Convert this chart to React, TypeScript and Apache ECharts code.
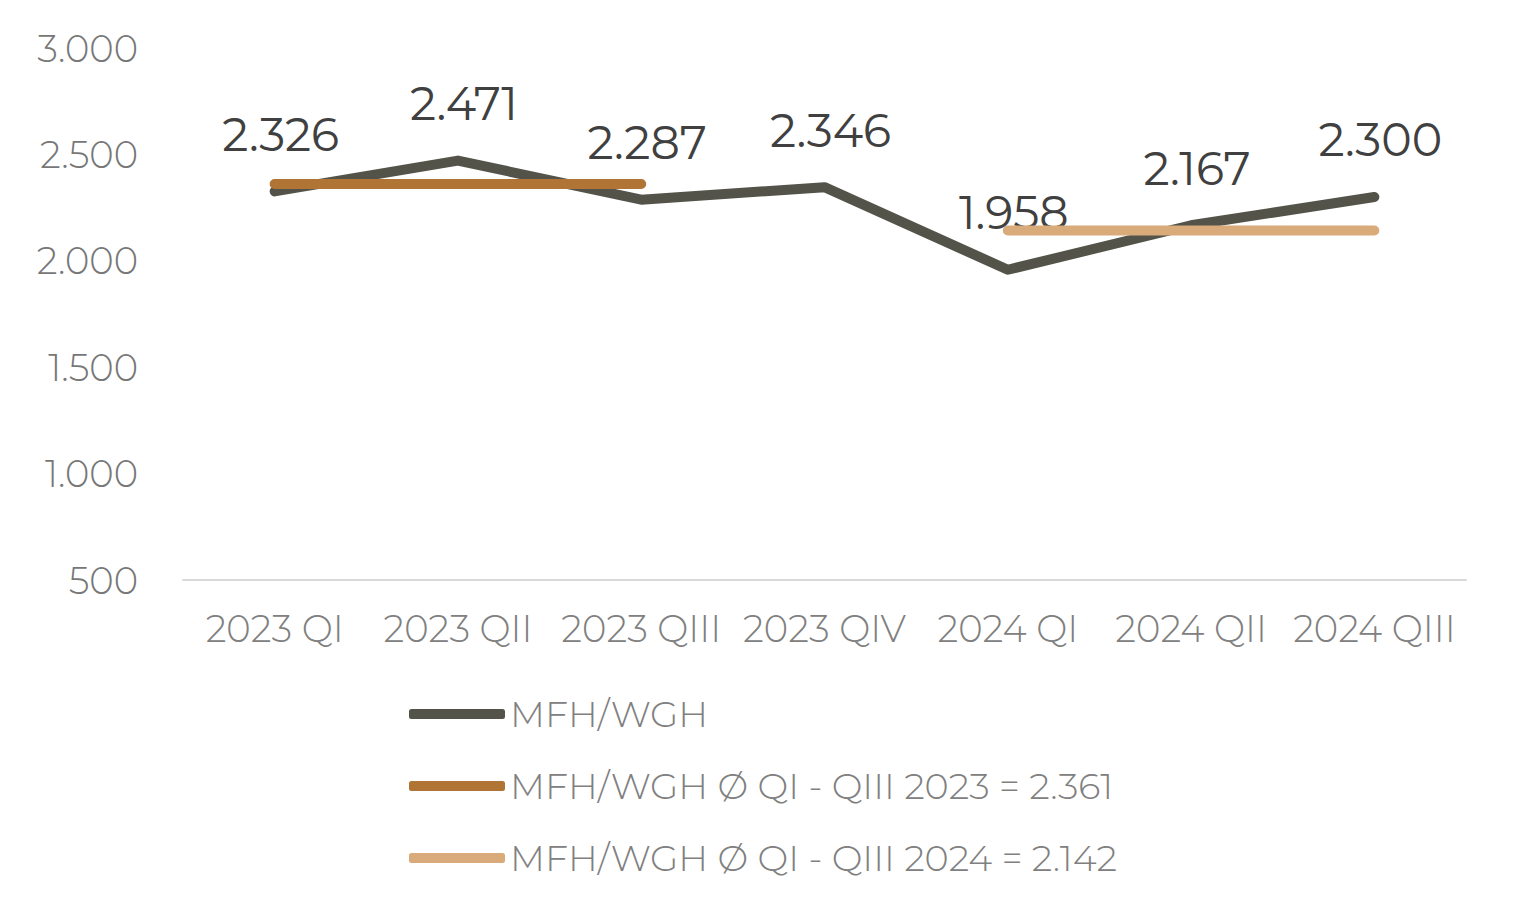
import React, { useEffect, useRef } from "react";
import * as echarts from "echarts";

const categories = ["2023 QI", "2023 QII", "2023 QIII", "2023 QIV", "2024 QI", "2024 QII", "2024 QIII"];
const mainValues = [2326, 2471, 2287, 2346, 1958, 2167, 2300];
const avg2023 = [2361, 2361, 2361, null, null, null, null];
const avg2024 = [null, null, null, null, 2142, 2142, 2142];
const seriesNames = ["MFH/WGH", "MFH/WGH Ø QI - QIII 2023 = 2.361", "MFH/WGH Ø QI - QIII 2024 = 2.142"];
const yTicks = { min: 500, max: 3000, interval: 500 };

const FONT = "Montserrat, Lato, 'Open Sans', sans-serif";
const fmt = (v: number) => {
  const s = String(Math.round(v));
  return s.length > 3 ? s.slice(0, s.length - 3) + "." + s.slice(-3) : s;
};

export default function App() {
  const ref = useRef<HTMLDivElement>(null);
  useEffect(() => {
    if (!ref.current) return;
    const chart = echarts.init(ref.current, null, { renderer: "svg" });
    chart.setOption({
      animation: false,
      backgroundColor: "#ffffff",
      grid: { left: 175, right: 43, top: 40, bottom: 328 },
      xAxis: {
        type: "category",
        data: categories,
        boundaryGap: true,
        axisLine: { lineStyle: { color: "#d9d9d9", width: 2 } },
        axisTick: { show: false },
        axisLabel: { color: "#808080", fontSize: 37, fontFamily: FONT, fontWeight: 300, margin: 30, interval: 0 },
      },
      yAxis: {
        type: "value",
        min: yTicks.min,
        max: yTicks.max,
        interval: yTicks.interval,
        axisLine: { show: false },
        axisTick: { show: false },
        splitLine: { show: false },
        axisLabel: {
          color: "#777777",
          fontSize: 37,
          fontFamily: FONT,
          fontWeight: 300,
          margin: 45,
          formatter: (v: number) => fmt(v),
        },
      },
      legend: {
        orient: "vertical",
        left: 401,
        top: 686,
        padding: 0,
        itemWidth: 96,
        itemHeight: 10,
        itemGap: 32,
        icon: "roundRect",
        textStyle: { color: "#808080", fontSize: 36.6, fontFamily: FONT, fontWeight: 300, lineHeight: 40, padding: [0, 0, 0, 0] },
        data: [
          { name: seriesNames[0], itemStyle: { color: "#53534a", opacity: 1 } },
          { name: seriesNames[1] },
          { name: seriesNames[2] },
        ],
      },
      series: [
        {
          name: seriesNames[0],
          type: "line",
          data: mainValues,
          color: "#53534a",
          lineStyle: { width: 10, color: "#53534a", cap: "round", join: "round" },
          showSymbol: true,
          symbol: "circle",
          symbolSize: 0.1,
          itemStyle: { color: "#53534a", opacity: 0 },
          z: 2,
          label: {
            show: true,
            position: "top",
            distance: 34,
            offset: [6, 0],
            color: "#404040",
            fontSize: 46,
            fontFamily: FONT,
            fontWeight: 400,
            opacity: 1,
            formatter: (p: any) => fmt(p.value),
          },
        },
        {
          name: seriesNames[1],
          type: "line",
          data: avg2023,
          color: "#b07435",
          lineStyle: { width: 10, color: "#b07435", cap: "round" },
          symbol: "none",
          z: 3,
        },
        {
          name: seriesNames[2],
          type: "line",
          data: avg2024,
          color: "#d9aa7a",
          lineStyle: { width: 10, color: "#d9aa7a", cap: "round" },
          symbol: "none",
          z: 3,
        },
      ],
    });
    return () => chart.dispose();
  }, []);
  return <div ref={ref} style={{ width: 1501, height: 900 }} />;
}
